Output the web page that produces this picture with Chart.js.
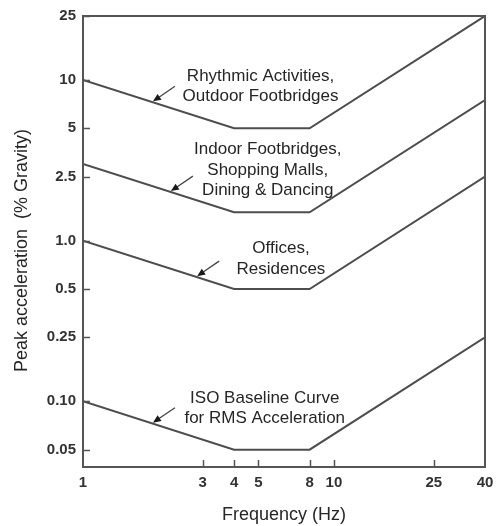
<!DOCTYPE html>
<html>
<head>
<meta charset="utf-8">
<script src="https://cdn.jsdelivr.net/npm/chart.js@4.4.1/dist/chart.umd.min.js"></script>
<style>
  html, body { margin: 0; padding: 0; background: #fff; }
  #wrap { width: 497px; height: 526px; }
</style>
</head>
<body>
<div id="wrap"><canvas id="accelChart" width="497" height="526"></canvas></div>
<script>
// break points of the curves (Hz) and peak acceleration (% g)
const freqHz = [1, 4, 8, 40];
const rhythmicAccel = [10, 5, 5, 25];
const indoorAccel = [3, 1.5, 1.5, 7.5];
const officeAccel = [1.0, 0.5, 0.5, 2.5];
const isoAccel = [0.10, 0.05, 0.05, 0.25];

const xTicks = [1, 3, 4, 5, 8, 10, 25, 40];
const yTicks = [0.05, 0.10, 0.25, 0.5, 1.0, 2.5, 5, 10, 25];
const yTickLabels = ["0.05", "0.10", "0.25", "0.5", "1.0", "2.5", "5", "10", "25"];

const curveLabels = [
    ["Rhythmic Activities,", "Outdoor Footbridges"],
    ["Indoor Footbridges,", "Shopping Malls,", "Dining & Dancing"],
    ["Offices,", "Residences"],
    ["ISO Baseline Curve", "for RMS Acceleration"]
];
const curves = [rhythmicAccel, indoorAccel, officeAccel, isoAccel];

// where the labels sit (data units) and where the arrow touches each curve (Hz)
const notePlace = [
    { f: 5.1, a: 10.6, arrowHz: 1.9 },
    { f: 5.45, a: 3.7, arrowHz: 2.24 },
    { f: 6.15, a: 0.895, arrowHz: 2.85 },
    { f: 5.3, a: 0.105, arrowHz: 1.9 }
];

const ink = "#262626";
const lineInk = "#4d4d4d";
const fontFam = '"Liberation Sans", Arial, sans-serif';

// value on a curve between its first two break points (straight on log-log)
function onCurve(vals, hz) {
    var t = Math.log(hz / freqHz[0]) / Math.log(freqHz[1] / freqHz[0]);
    return Math.exp(Math.log(vals[0]) + t * (Math.log(vals[1]) - Math.log(vals[0])));
}

const frameAndNotes = {
    id: "frameAndNotes",
    afterDatasetsDraw(chart) {
        const ctx = chart.ctx;
        const a = chart.chartArea;
        const x = chart.scales.x;
        const y = chart.scales.y;
        ctx.save();
        // box
        ctx.strokeStyle = "#555";
        ctx.lineWidth = 2;
        ctx.strokeRect(a.left, a.top, a.right - a.left, a.bottom - a.top);
        // inward ticks
        ctx.lineWidth = 1.5;
        ctx.beginPath();
        yTicks.forEach((v) => {
            const py = Math.round(y.getPixelForValue(v)) + 0.5;
            ctx.moveTo(a.left, py);
            ctx.lineTo(a.left + 7, py);
        });
        xTicks.slice(1, -1).forEach((v) => {
            const px = Math.round(x.getPixelForValue(v)) + 0.5;
            ctx.moveTo(px, a.bottom);
            ctx.lineTo(px, a.bottom - 7);
        });
        ctx.stroke();

        // y axis title
        ctx.fillStyle = ink;
        ctx.font = "18px " + fontFam;
        ctx.textAlign = "center";
        ctx.textBaseline = "middle";
        ctx.save();
        ctx.translate(a.left - 61, (a.top + a.bottom) / 2 + 9);
        ctx.rotate(-Math.PI / 2);
        ctx.fillText("Peak acceleration  (% Gravity)", 0, 0);
        ctx.restore();

        // labels and arrows
        ctx.font = "17px " + fontFam;
        curveLabels.forEach((lines, i) => {
            const p = notePlace[i];
            const cx = x.getPixelForValue(p.f);
            const cy = y.getPixelForValue(p.a);
            lines.forEach((t, k) => ctx.fillText(t, cx, cy + k * 20.5));

            const tipX = x.getPixelForValue(p.arrowHz);
            const tipY = y.getPixelForValue(onCurve(curves[i], p.arrowHz)) - 1;
            const tailX = tipX + 22, tailY = tipY - 15;
            const ang = Math.atan2(tipY - tailY, tipX - tailX);
            ctx.strokeStyle = "#444";
            ctx.lineWidth = 1.3;
            ctx.beginPath();
            ctx.moveTo(tailX, tailY);
            ctx.lineTo(tipX - 6 * Math.cos(ang), tipY - 6 * Math.sin(ang));
            ctx.stroke();
            ctx.fillStyle = "#1a1a1a";
            ctx.beginPath();
            ctx.moveTo(tipX, tipY);
            ctx.lineTo(tipX - 8 * Math.cos(ang) + 3.5 * Math.sin(ang), tipY - 8 * Math.sin(ang) - 3.5 * Math.cos(ang));
            ctx.lineTo(tipX - 8 * Math.cos(ang) - 3.5 * Math.sin(ang), tipY - 8 * Math.sin(ang) + 3.5 * Math.cos(ang));
            ctx.closePath();
            ctx.fill();
            ctx.fillStyle = ink;
        });
        ctx.restore();
    }
};

const datasets = curves.map((vals, i) => ({
    label: curveLabels[i].join(" "),
    data: freqHz.map((f, j) => ({ x: f, y: vals[j] })),
    borderColor: lineInk,
    borderWidth: 2,
    pointRadius: 0,
    fill: false,
    tension: 0
}));

new Chart(document.getElementById("accelChart").getContext("2d"), {
    type: "line",
    data: { datasets: datasets },
    options: {
        responsive: false,
        animation: false,
        layout: { padding: { top: 16, right: 12, left: 0, bottom: 0 } },
        plugins: { legend: { display: false }, tooltip: { enabled: false } },
        scales: {
            x: {
                type: "logarithmic",
                min: 1,
                max: 40,
                afterBuildTicks: (s) => { s.ticks = xTicks.map((v) => ({ value: v })); },
                afterFit: (s) => {
                    s.height = 59;
                    s.paddingLeft = 0;
                    s.paddingRight = 0;
                },
                grid: { display: false, drawTicks: false },
                border: { display: false },
                ticks: {
                    autoSkip: false,
                    maxRotation: 0,
                    padding: 7,
                    color: "#333",
                    font: { size: 15, weight: "bold", family: fontFam },
                    callback: (v) => String(v)
                },
                title: {
                    display: true,
                    text: "Frequency (Hz)",
                    color: ink,
                    font: { size: 18, family: fontFam },
                    padding: { top: 4, bottom: 0 }
                }
            },
            y: {
                type: "logarithmic",
                min: 0.039,
                max: 25,
                afterBuildTicks: (s) => { s.ticks = yTicks.map((v) => ({ value: v })); },
                afterFit: (s) => {
                    s.width = 83;
                    s.paddingTop = 0;
                    s.paddingBottom = 0;
                },
                grid: { display: false, drawTicks: false },
                border: { display: false },
                ticks: {
                    autoSkip: false,
                    padding: 7,
                    color: "#333",
                    font: { size: 15, weight: "bold", family: fontFam },
                    callback: (v) => {
                        const k = yTicks.findIndex((t) => Math.abs(t - v) < 1e-9);
                        return k >= 0 ? yTickLabels[k] : "";
                    }
                }
            }
        }
    },
    plugins: [frameAndNotes]
});
</script>
</body>
</html>
